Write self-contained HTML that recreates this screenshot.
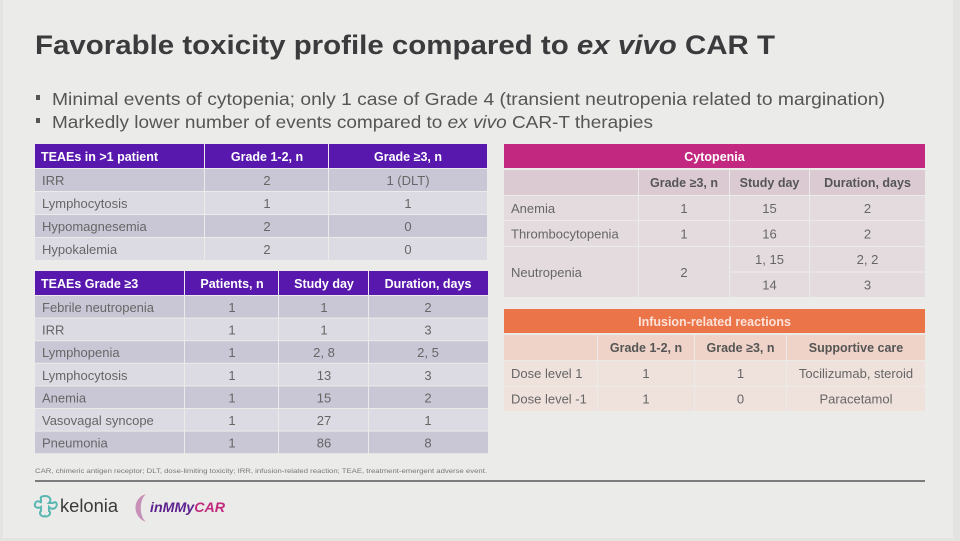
<!DOCTYPE html>
<html><head><meta charset="utf-8">
<style>
html,body{margin:0;padding:0;background:#ebebe9;}
svg{display:block;}
text{font-family:"Liberation Sans",sans-serif;}
</style></head>
<body>
<svg width="960" height="541" viewBox="0 0 960 541" xmlns="http://www.w3.org/2000/svg">
<rect x="0" y="0" width="960" height="541" fill="#ebebe9"/>
<rect x="953" y="0" width="7" height="541" fill="#e3e3e1"/>
<rect x="0" y="0" width="3" height="541" fill="#e3e3e1"/>
<rect x="0" y="538" width="960" height="3" fill="#e3e3e1"/>

<!-- Title -->
<text x="35" y="54" font-size="27" font-weight="bold" fill="#3b3b3d" textLength="740" lengthAdjust="spacingAndGlyphs">Favorable toxicity profile compared to <tspan font-style="italic">ex vivo</tspan> CAR T</text>

<!-- Bullets -->
<rect x="36" y="95" width="4" height="5" fill="#555"/>
<text x="52" y="105" font-size="17.5" fill="#555" textLength="833" lengthAdjust="spacingAndGlyphs">Minimal events of cytopenia; only 1 case of Grade 4 (transient neutropenia related to margination)</text>
<rect x="36" y="118" width="4" height="5" fill="#555"/>
<text x="52" y="128" font-size="17.5" fill="#555" textLength="601" lengthAdjust="spacingAndGlyphs">Markedly lower number of events compared to <tspan font-style="italic">ex vivo</tspan> CAR-T therapies</text>

<!-- Table 1 -->
<g>
<rect x="35" y="144" width="169" height="24" fill="#5818ae"/>
<rect x="205" y="144" width="123" height="24" fill="#5818ae"/>
<rect x="329" y="144" width="158" height="24" fill="#5818ae"/>
<g font-size="12.5" font-weight="bold" fill="#fff">
<text x="41" y="161">TEAEs in &gt;1 patient</text>
<text x="267" y="161" text-anchor="middle">Grade 1-2, n</text>
<text x="408" y="161" text-anchor="middle">Grade ≥3, n</text>
</g>
<g fill="#c9c7d5">
<rect x="35" y="169" width="169" height="22"/><rect x="205" y="169" width="123" height="22"/><rect x="329" y="169" width="158" height="22"/>
<rect x="35" y="215" width="169" height="22"/><rect x="205" y="215" width="123" height="22"/><rect x="329" y="215" width="158" height="22"/>
</g>
<g fill="#dcdbe3">
<rect x="35" y="192" width="169" height="22"/><rect x="205" y="192" width="123" height="22"/><rect x="329" y="192" width="158" height="22"/>
<rect x="35" y="238" width="169" height="22"/><rect x="205" y="238" width="123" height="22"/><rect x="329" y="238" width="158" height="22"/>
</g>
<g font-size="13" fill="#666">
<text x="42" y="185">IRR</text><text x="267" y="185" text-anchor="middle">2</text><text x="408" y="185" text-anchor="middle">1 (DLT)</text>
<text x="42" y="208">Lymphocytosis</text><text x="267" y="208" text-anchor="middle">1</text><text x="408" y="208" text-anchor="middle">1</text>
<text x="42" y="231">Hypomagnesemia</text><text x="267" y="231" text-anchor="middle">2</text><text x="408" y="231" text-anchor="middle">0</text>
<text x="42" y="254">Hypokalemia</text><text x="267" y="254" text-anchor="middle">2</text><text x="408" y="254" text-anchor="middle">0</text>
</g>
</g>

<!-- Table 2 -->
<g>
<rect x="35" y="271" width="149" height="24" fill="#5818ae"/>
<rect x="185" y="271" width="93" height="24" fill="#5818ae"/>
<rect x="279" y="271" width="89" height="24" fill="#5818ae"/>
<rect x="369" y="271" width="119" height="24" fill="#5818ae"/>
<g font-size="12.5" font-weight="bold" fill="#fff">
<text x="41" y="288">TEAEs Grade ≥3</text>
<text x="232" y="288" text-anchor="middle">Patients, n</text>
<text x="324" y="288" text-anchor="middle">Study day</text>
<text x="428" y="288" text-anchor="middle">Duration, days</text>
</g>
<g fill="#c9c7d5">
<rect x="35" y="296" width="149" height="21.6"/><rect x="185" y="296" width="93" height="21.6"/><rect x="279" y="296" width="89" height="21.6"/><rect x="369" y="296" width="119" height="21.6"/>
<rect x="35" y="341.2" width="149" height="21.6"/><rect x="185" y="341.2" width="93" height="21.6"/><rect x="279" y="341.2" width="89" height="21.6"/><rect x="369" y="341.2" width="119" height="21.6"/>
<rect x="35" y="386.4" width="149" height="21.6"/><rect x="185" y="386.4" width="93" height="21.6"/><rect x="279" y="386.4" width="89" height="21.6"/><rect x="369" y="386.4" width="119" height="21.6"/>
<rect x="35" y="431.6" width="149" height="21.6"/><rect x="185" y="431.6" width="93" height="21.6"/><rect x="279" y="431.6" width="89" height="21.6"/><rect x="369" y="431.6" width="119" height="21.6"/>
</g>
<g fill="#dcdbe3">
<rect x="35" y="318.6" width="149" height="21.6"/><rect x="185" y="318.6" width="93" height="21.6"/><rect x="279" y="318.6" width="89" height="21.6"/><rect x="369" y="318.6" width="119" height="21.6"/>
<rect x="35" y="363.8" width="149" height="21.6"/><rect x="185" y="363.8" width="93" height="21.6"/><rect x="279" y="363.8" width="89" height="21.6"/><rect x="369" y="363.8" width="119" height="21.6"/>
<rect x="35" y="409" width="149" height="21.6"/><rect x="185" y="409" width="93" height="21.6"/><rect x="279" y="409" width="89" height="21.6"/><rect x="369" y="409" width="119" height="21.6"/>
</g>
<g font-size="13" fill="#666">
<text x="42" y="312">Febrile neutropenia</text><text x="232" y="312" text-anchor="middle">1</text><text x="324" y="312" text-anchor="middle">1</text><text x="428" y="312" text-anchor="middle">2</text>
<text x="42" y="334.6">IRR</text><text x="232" y="334.6" text-anchor="middle">1</text><text x="324" y="334.6" text-anchor="middle">1</text><text x="428" y="334.6" text-anchor="middle">3</text>
<text x="42" y="357.2">Lymphopenia</text><text x="232" y="357.2" text-anchor="middle">1</text><text x="324" y="357.2" text-anchor="middle">2, 8</text><text x="428" y="357.2" text-anchor="middle">2, 5</text>
<text x="42" y="379.8">Lymphocytosis</text><text x="232" y="379.8" text-anchor="middle">1</text><text x="324" y="379.8" text-anchor="middle">13</text><text x="428" y="379.8" text-anchor="middle">3</text>
<text x="42" y="402.4">Anemia</text><text x="232" y="402.4" text-anchor="middle">1</text><text x="324" y="402.4" text-anchor="middle">15</text><text x="428" y="402.4" text-anchor="middle">2</text>
<text x="42" y="425">Vasovagal syncope</text><text x="232" y="425" text-anchor="middle">1</text><text x="324" y="425" text-anchor="middle">27</text><text x="428" y="425" text-anchor="middle">1</text>
<text x="42" y="447.6">Pneumonia</text><text x="232" y="447.6" text-anchor="middle">1</text><text x="324" y="447.6" text-anchor="middle">86</text><text x="428" y="447.6" text-anchor="middle">8</text>
</g>
</g>

<!-- Footnote -->
<text x="35" y="473" font-size="6" fill="#777" textLength="452" lengthAdjust="spacingAndGlyphs">CAR, chimeric antigen receptor; DLT, dose-limiting toxicity; IRR, infusion-related reaction; TEAE, treatment-emergent adverse event.</text>
<rect x="35" y="480" width="890" height="2" fill="#7c7c7e"/>

<!-- Cytopenia table -->
<g>
<rect x="504" y="144" width="421" height="24" fill="#c2287f"/>
<text x="714.5" y="161" font-size="12.5" font-weight="bold" fill="#fff" text-anchor="middle">Cytopenia</text>
<g fill="#dccad2">
<rect x="504" y="170" width="134" height="25"/><rect x="639" y="170" width="90" height="25"/><rect x="730" y="170" width="79" height="25"/><rect x="810" y="170" width="115" height="25"/>
</g>
<g fill="#e4dbdf">
<rect x="504" y="196" width="134" height="24"/><rect x="639" y="196" width="90" height="24"/><rect x="730" y="196" width="79" height="24"/><rect x="810" y="196" width="115" height="24"/>
<rect x="504" y="221" width="134" height="25"/><rect x="639" y="221" width="90" height="25"/><rect x="730" y="221" width="79" height="25"/><rect x="810" y="221" width="115" height="25"/>
<rect x="504" y="247" width="134" height="50"/><rect x="639" y="247" width="90" height="50"/>
<rect x="730" y="247" width="79" height="24.5"/><rect x="810" y="247" width="115" height="24.5"/>
<rect x="730" y="272.5" width="79" height="24.5"/><rect x="810" y="272.5" width="115" height="24.5"/>
</g>
<g font-size="12.5" font-weight="bold" fill="#555">
<text x="684" y="187" text-anchor="middle">Grade ≥3, n</text>
<text x="769.5" y="187" text-anchor="middle">Study day</text>
<text x="867.5" y="187" text-anchor="middle">Duration, days</text>
</g>
<g font-size="13" fill="#666">
<text x="511" y="213">Anemia</text><text x="684" y="213" text-anchor="middle">1</text><text x="769.5" y="213" text-anchor="middle">15</text><text x="867.5" y="213" text-anchor="middle">2</text>
<text x="511" y="238.5">Thrombocytopenia</text><text x="684" y="238.5" text-anchor="middle">1</text><text x="769.5" y="238.5" text-anchor="middle">16</text><text x="867.5" y="238.5" text-anchor="middle">2</text>
<text x="511" y="277">Neutropenia</text><text x="684" y="277" text-anchor="middle">2</text>
<text x="769.5" y="264" text-anchor="middle">1, 15</text><text x="867.5" y="264" text-anchor="middle">2, 2</text>
<text x="769.5" y="289.5" text-anchor="middle">14</text><text x="867.5" y="289.5" text-anchor="middle">3</text>
</g>
</g>

<!-- IRR table -->
<g>
<rect x="504" y="309" width="421" height="24" fill="#ec7449"/>
<text x="714.5" y="326" font-size="12.5" font-weight="bold" fill="#fbe3da" text-anchor="middle">Infusion-related reactions</text>
<g fill="#efd3c9">
<rect x="504" y="335" width="93" height="25"/><rect x="598" y="335" width="96" height="25"/><rect x="695" y="335" width="91" height="25"/><rect x="787" y="335" width="138" height="25"/>
</g>
<g fill="#efe1dc">
<rect x="504" y="361" width="93" height="25"/><rect x="598" y="361" width="96" height="25"/><rect x="695" y="361" width="91" height="25"/><rect x="787" y="361" width="138" height="25"/>
<rect x="504" y="387" width="93" height="24"/><rect x="598" y="387" width="96" height="24"/><rect x="695" y="387" width="91" height="24"/><rect x="787" y="387" width="138" height="24"/>
</g>
<g font-size="12.5" font-weight="bold" fill="#555">
<text x="646" y="352" text-anchor="middle">Grade 1-2, n</text>
<text x="740.5" y="352" text-anchor="middle">Grade ≥3, n</text>
<text x="856" y="352" text-anchor="middle">Supportive care</text>
</g>
<g font-size="13" fill="#666">
<text x="511" y="378">Dose level 1</text><text x="646" y="378" text-anchor="middle">1</text><text x="740.5" y="378" text-anchor="middle">1</text><text x="856" y="378" text-anchor="middle">Tocilizumab, steroid</text>
<text x="511" y="403.5">Dose level -1</text><text x="646" y="403.5" text-anchor="middle">1</text><text x="740.5" y="403.5" text-anchor="middle">0</text><text x="856" y="403.5" text-anchor="middle">Paracetamol</text>
</g>
</g>

<!-- Logos -->
<g fill="none" stroke="#5cb7b3" stroke-width="2">
<path d="M45 496 C50 496 52 500 49 503 L53 503 C57 500 58 506 55 508 C52 510 50 508 49 507 L49 511 C52 513 48 518 45 516 C42 518 38 513 41 511 L41 507 C38 509 34 507 35 504 C36 500 40 501 41 503 L41 499 C40 497 42 496 45 496 Z"/>
</g>
<text x="60" y="512" font-size="18" fill="#3a3a3a" textLength="58" lengthAdjust="spacingAndGlyphs">kelonia</text>
<path d="M146 494 C132 498 132 517 146 522 C139 516 139 500 146 494 Z" fill="#c790b8"/>
<text x="150" y="512" font-size="14" font-weight="bold" font-style="italic" textLength="75" lengthAdjust="spacingAndGlyphs"><tspan fill="#5b1f8e">inMMy</tspan><tspan fill="#c22a7d">CAR</tspan></text>
</svg>
</body></html>
